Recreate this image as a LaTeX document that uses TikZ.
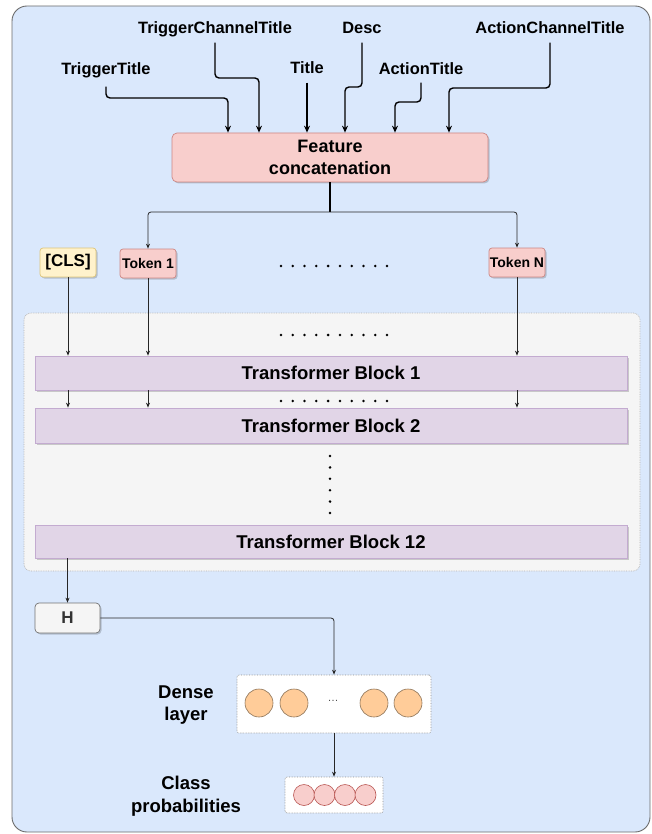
\documentclass[tikz,border=0pt]{standalone}
\usepackage{fontspec}
\setmainfont{Liberation Sans}
\usetikzlibrary{arrows.meta,shadows,calc}
\definecolor{bgblue}{HTML}{DAE8FC}
\definecolor{bgline}{HTML}{6B6B6B}
\definecolor{redfill}{HTML}{F8CECC}
\definecolor{redline}{HTML}{B85450}
\definecolor{yelfill}{HTML}{FFF2CC}
\definecolor{yelline}{HTML}{D6B656}
\definecolor{purfill}{HTML}{E1D5E7}
\definecolor{purline}{HTML}{C3ABD0}
\definecolor{grayfill}{HTML}{F5F5F5}
\definecolor{grayline}{HTML}{B3B3B3}
\definecolor{orfill}{HTML}{FFCC99}
\definecolor{orline}{HTML}{8C7358}
\tikzset{
  lbl/.style={font=\bfseries\fontsize{16.4}{19}\selectfont, inner sep=0pt, text height=12pt, text depth=3pt},
  bigtxt/.style={font=\bfseries\fontsize{18}{22}\selectfont},
  bigarr/.style={draw=black, line width=1.4pt, rounded corners=4pt, -{Stealth[length=7pt,width=6pt]}},
  thinarr/.style={draw=black!85, line width=0.8pt, rounded corners=3pt, -{Stealth[length=5pt,width=4pt]}},
  shade/.style={drop shadow={shadow xshift=1.5pt, shadow yshift=-1.5pt, opacity=0.18, fill=black}},
  featbox/.style={draw=redline!70, fill=redfill, rounded corners=5pt, line width=0.7pt, shade, align=center, bigtxt, inner sep=0pt},
  tokbox/.style={draw=redline!70, fill=redfill, rounded corners=3pt, line width=0.7pt, shade, inner sep=0pt, font=\bfseries\fontsize{14}{16}\selectfont},
  clsbox/.style={draw=yelline!80, fill=yelfill, rounded corners=3pt, line width=0.7pt, shade, inner sep=0pt, font=\bfseries\fontsize{17}{19}\selectfont},
  tfbox/.style={draw=purline, fill=purfill, line width=0.7pt, shade, inner sep=0pt, font=\bfseries\fontsize{18.5}{21}\selectfont, minimum width=592pt},
  hbox/.style={draw=black!55, fill=grayfill, rounded corners=4pt, line width=0.7pt, shade, inner sep=0pt, text=black!80, font=\bfseries\fontsize{17}{19}\selectfont},
  dotbox/.style={draw=black!45, fill=white, densely dotted, rounded corners=2pt, line width=0.6pt, inner sep=0pt},
  orcirc/.style={circle, draw=orline, fill=orfill, line width=0.6pt, minimum size=28pt, inner sep=0pt},
  pkcirc/.style={circle, draw=redline, fill=redfill, line width=0.6pt, minimum size=21pt, inner sep=0pt},
  sidetxt/.style={align=center, font=\bfseries\fontsize{18.5}{22.5}\selectfont}
}
\begin{document}
\begin{tikzpicture}[x=1pt,y=-1pt]
\useasboundingbox (0,0) rectangle (652,834);
% outer container
\path[draw=bgline, fill=bgblue, line width=0.9pt, rounded corners=15pt] (12,6) rectangle (650,832);
% transformer container
\path[draw=grayline, fill=grayfill, densely dotted, line width=0.7pt, rounded corners=7pt] (24,313) rectangle (640,571);

% input labels
\node[lbl] (tct) at (215,29) {TriggerChannelTitle};
\node[lbl] (desc) at (362,29) {Desc};
\node[lbl] (act) at (550,29) {ActionChannelTitle};
\node[lbl] (tt) at (106,70) {TriggerTitle};
\node[lbl] (ttl) at (307,69) {Title};
\node[lbl] (at) at (421,70) {ActionTitle};

% feature concatenation
\node[featbox, minimum width=316pt, minimum height=49pt] (feat) at (330,157.5) {Feature\\concatenation};

\coordinate (k1) at (228,98);
\coordinate (k2) at (259,78);
\coordinate (k4) at (345,87);
\coordinate (k5) at (395,102);
\coordinate (k6) at (449,88);
\draw[bigarr, shorten <=9pt] (tt.south) |- (k1) -- (k1 |- feat.north);
\draw[bigarr, shorten <=6pt] (tct.south) |- (k2) -- (k2 |- feat.north);
\draw[bigarr, shorten <=6pt] (ttl.south) -- (ttl.south |- feat.north);
\draw[bigarr, shorten <=6pt] (desc.south) |- (k4) -- (k4 |- feat.north);
\draw[bigarr, shorten <=5pt] (at.south) |- (k5) -- (k5 |- feat.north);
\draw[bigarr, shorten <=6pt] (act.south) |- (k6) -- (k6 |- feat.north);

% tokens
\node[clsbox, minimum width=56pt, minimum height=29pt] (cls) at (68,262.5) {[CLS]};
\node[tokbox, minimum width=56pt, minimum height=29pt] (tok1) at (148,263.5) {Token 1};
\node[tokbox, minimum width=56pt, minimum height=29pt] (tokn) at (517,262.5) {Token N};

\coordinate (sp) at (330,212);
\draw[line width=1.4pt] (feat.south) -- (sp);
\draw[thinarr] (sp) -| (tok1.north);
\draw[thinarr] (sp) -| (tokn.north);

% dot rows
\foreach \yy in {266,335,401}{
  \foreach \i in {0,...,9}{
    \fill (281+\i*11.78,\yy) circle (1.4pt);
  }
}
\foreach \i in {0,...,5}{
  \fill (330,456+\i*11.4) circle (1.4pt);
}

% transformer blocks
\node[tfbox, minimum height=34pt] (b1) at (331,373) {Transformer Block 1};
\node[tfbox, minimum height=35pt] (b2) at (331,425.5) {Transformer Block 2};
\node[tfbox, minimum height=33pt] (b12) at (331,541.5) {Transformer Block 12};

\draw[thinarr] (cls.south) -- (cls.south |- b1.north);
\draw[thinarr] (tok1.south) -- (tok1.south |- b1.north);
\draw[thinarr] (tokn.south) -- (tokn.south |- b1.north);
\draw[thinarr] (cls.south |- b1.south) -- (cls.south |- b2.north);
\draw[thinarr] (tok1.south |- b1.south) -- (tok1.south |- b2.north);
\draw[thinarr] (tokn.south |- b1.south) -- (tokn.south |- b2.north);

% H
\node[hbox, minimum width=65pt, minimum height=30pt] (h) at (67.5,618) {H};
\draw[thinarr] (h.north |- b12.south) -- (h.north);

% dense layer
\node[dotbox, minimum width=194pt, minimum height=58pt] (dense) at (334,704) {};
\node[orcirc] (d1) at (259,703) {};
\node[orcirc] (d2) at (294,703) {};
\node[orcirc] (d3) at (374,703) {};
\node[orcirc] (d4) at (408,703) {};
\node[font=\fontsize{11}{12}\selectfont, text=black!70] (ddots) at (333,701) {\dots};
\node[sidetxt] (denselbl) at (186,705) {Dense\\layer};
\draw[thinarr] (h.east) -| (dense.north);

% class probabilities
\node[dotbox, minimum width=98pt, minimum height=36pt] (cls2) at (334,795) {};
\node[pkcirc] (c1) at (304,795) {};
\node[pkcirc] (c2) at (324.5,795) {};
\node[pkcirc] (c3) at (345,795) {};
\node[pkcirc] (c4) at (365.5,795) {};
\node[sidetxt] (classlbl) at (186,796) {Class\\probabilities};
\draw[thinarr] (dense.south) -- (cls2.north);
\end{tikzpicture}
\end{document}
